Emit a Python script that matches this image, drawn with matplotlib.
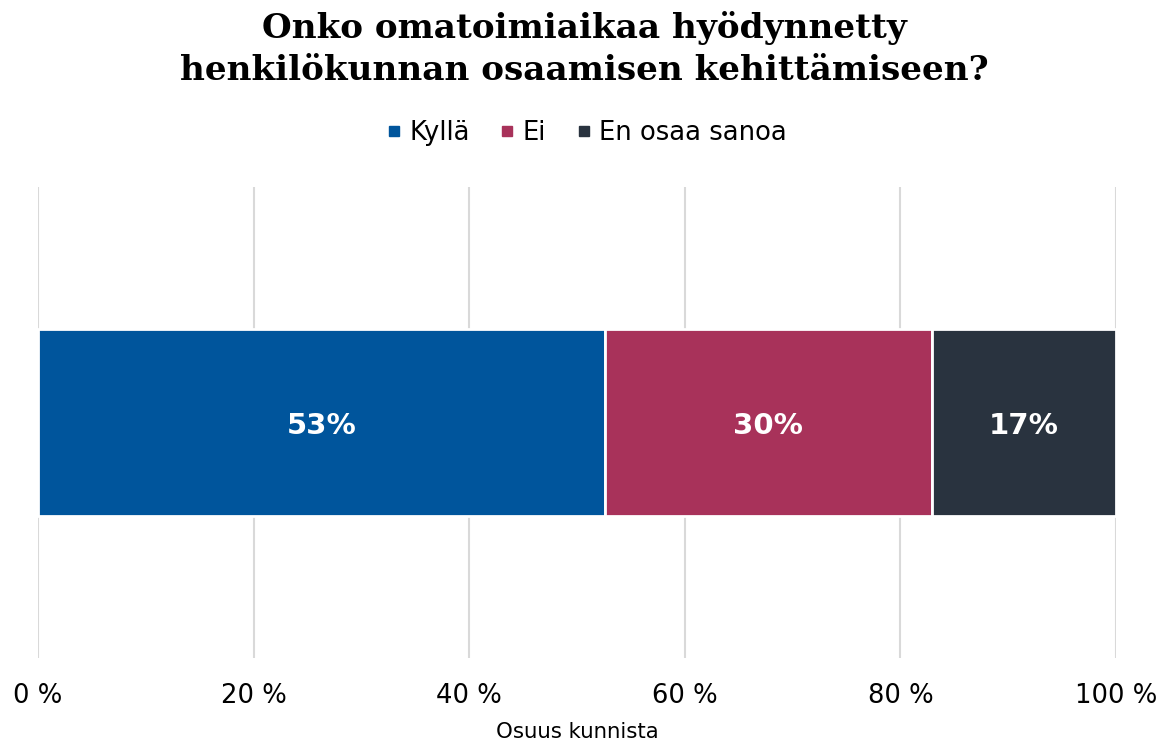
import matplotlib
matplotlib.use("Agg")
import matplotlib.pyplot as plt
from matplotlib.lines import Line2D

categories = ["Kyllä", "Ei", "En osaa sanoa"]
values = [52.6, 30.3, 17.1]
colors = ["#00559C", "#A8325A", "#29333F"]
tick_values = [0, 20, 40, 60, 80, 100]
tick_labels = ["0 %", "20 %", "40 %", "60 %", "80 %", "100 %"]
title = "Onko omatoimiaikaa hyödynnetty\nhenkilökunnan osaamisen kehittämiseen?"
xlabel = "Osuus kunnista"

W, H = 1168, 740
fig = plt.figure(figsize=(W / 100, H / 100), dpi=100)
ax = fig.add_axes([38 / W, 1 - 658 / H, (1116 - 38) / W, (658 - 187) / H])

left = 0
for cat, v, c in zip(categories, values, colors):
    ax.barh(0, v, left=left, height=0.395, color=c, edgecolor="white",
            linewidth=2, zorder=3)
    ax.text(left + v / 2, 0, f"{round(v)}%", ha="center", va="center_baseline",
            color="white", fontsize=21, fontweight="bold", zorder=4)
    left += v

ax.set_xlim(0, 100)
ax.set_ylim(-0.5, 0.5)
ax.set_xticks(tick_values)
ax.set_xticklabels(tick_labels, fontsize=18.6, color="#000000")
ax.set_yticks([])
ax.tick_params(axis="x", length=0, pad=18)
ax.grid(axis="x", color="#d9d9d9", linewidth=1.5, zorder=0)
for s in ax.spines.values():
    s.set_visible(False)
ax.set_xlabel(xlabel, fontsize=15.3, labelpad=9)

fig.text(0.5, 1 - 49 / H, title, ha="center", va="center",
         fontsize=24.7, fontweight="bold", family="DejaVu Serif",
         linespacing=1.36)

handles = [Line2D([0], [0], marker="s", linestyle="none", markersize=7.5,
                  markerfacecolor=c, markeredgecolor=c) for c in colors]
fig.legend(handles, categories, loc="center", bbox_to_anchor=(0.5, 1 - 133 / H),
           ncol=3, frameon=False, fontsize=18.6, handletextpad=0.1,
           columnspacing=0.95, handlelength=1.0)

fig.savefig("out.png", dpi=100, facecolor="white")
